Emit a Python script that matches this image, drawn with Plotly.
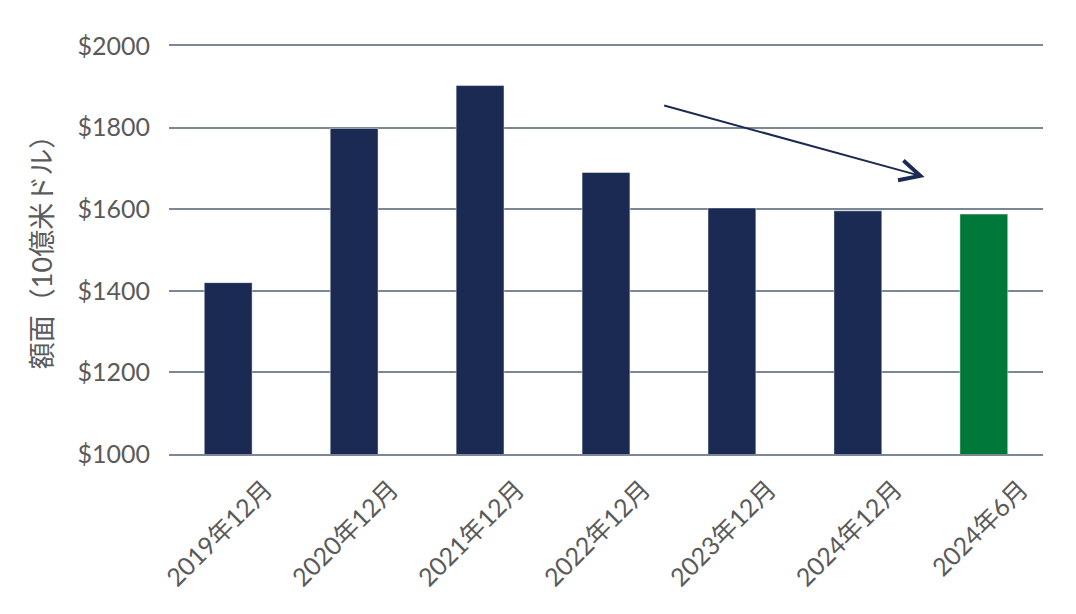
import plotly.graph_objects as go

# period labels and face value (USD bn)
periods = ["2019年12月", "2020年12月", "2021年12月", "2022年12月",
           "2023年12月", "2024年12月", "2024年6月"]
face_value = [1420, 1798, 1903, 1690, 1603, 1596, 1588]
y_ticks = [1000, 1200, 1400, 1600, 1800, 2000]

NAVY = "#1B2A52"
GREEN = "#00783A"
GRID = "#7B8794"
TEXT = "#5A5A5A"
FONT = "Lato, 'Noto Sans CJK JP', sans-serif"

bar_colors = [NAVY] * (len(periods) - 1) + [GREEN]

fig = go.Figure()

fig.add_trace(
    go.Bar(
        x=periods,
        y=face_value,
        base=0,
        marker=dict(color=bar_colors,
                    line=dict(color="rgba(255,255,255,0.45)", width=1)),
        width=0.38,
        showlegend=False,
    )
)

# downward trend arrow
fig.add_annotation(
    x=5.53, y=1679, ax=3.45, ay=1855,
    xref="x", yref="y", axref="x", ayref="y",
    text="", showarrow=True,
    arrowhead=5, arrowsize=2, arrowwidth=2, arrowcolor=NAVY,
)

# y axis title
fig.add_annotation(
    text="額面（10億米ドル）",
    xref="paper", yref="paper", x=-0.145, y=0.51,
    xanchor="center", yanchor="middle",
    textangle=-90, showarrow=False,
    font=dict(family=FONT, size=27, color=TEXT),
)

fig.update_layout(
    width=1076,
    height=614,
    margin=dict(l=161, r=41, t=38, b=168),
    plot_bgcolor="white",
    paper_bgcolor="white",
    font=dict(family=FONT, size=25, color=TEXT),
)

fig.update_xaxes(
    type="category",
    range=[-0.47, 6.47],
    tickangle=-45,
    showgrid=False,
    showline=True,
    linecolor=GRID,
    linewidth=1.5,
    mirror=True,
    ticks="",
    ticklabelshift=37,
    ticklabelstandoff=9,
    automargin=False,
    tickfont=dict(size=25, color=TEXT),
)

fig.update_yaxes(
    range=[1000, 2000],
    tickvals=y_ticks,
    ticktext=[f"${v}" for v in y_ticks],
    showgrid=True,
    gridcolor=GRID,
    gridwidth=1.5,
    zeroline=False,
    showline=False,
    ticks="",
    ticklabelstandoff=18,
    automargin=False,
    tickfont=dict(size=25, color=TEXT),
)

fig.write_html("out.html")
